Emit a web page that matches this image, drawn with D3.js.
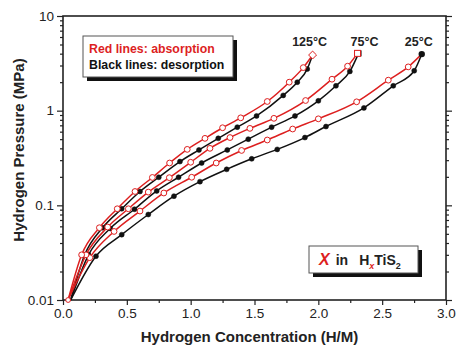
<!DOCTYPE html>
<html>
<head>
<meta charset="utf-8">
<script src="https://cdn.jsdelivr.net/npm/d3@7"></script>
<style>
  body { margin: 0; background: #fff; }
  svg { display: block; font-family: "Liberation Sans", Arial, sans-serif; }
</style>
</head>
<body>
<svg id="chart" width="456" height="346"></svg>
<script>
// [H/M, MPa] points
const absorption125 = [[0.04,0.01],[0.146,0.03],[0.285,0.058],[0.425,0.092],[0.564,0.14],[0.70,0.197],[0.835,0.28],[0.973,0.39],[1.112,0.51],[1.25,0.66],[1.392,0.84],[1.6,1.25],[1.772,2.0],[1.882,2.85],[1.955,3.87]];
const desorption125 = [[0.06,0.01],[0.17,0.03],[0.31,0.058],[0.46,0.092],[0.603,0.14],[0.75,0.198],[0.916,0.29],[1.065,0.385],[1.216,0.51],[1.365,0.67],[1.516,0.88],[1.725,1.45],[1.835,2.0],[1.913,2.75],[1.955,3.87]];
const absorption75 = [[0.04,0.01],[0.18,0.03],[0.35,0.059],[0.512,0.092],[0.668,0.138],[0.833,0.196],[1.0,0.285],[1.151,0.40],[1.308,0.52],[1.464,0.65],[1.652,0.83],[1.9,1.28],[2.107,2.15],[2.229,2.95],[2.307,4.03]];
const desorption75 = [[0.06,0.01],[0.2,0.03],[0.37,0.057],[0.56,0.091],[0.734,0.142],[0.905,0.198],[1.086,0.28],[1.287,0.385],[1.451,0.50],[1.634,0.67],[1.817,0.88],[2.0,1.27],[2.138,1.83],[2.247,2.6],[2.315,4.03]];
const absorption25 = [[0.04,0.01],[0.21,0.028],[0.40,0.053],[0.603,0.087],[0.79,0.135],[1.008,0.198],[1.2,0.28],[1.399,0.38],[1.6,0.49],[1.799,0.64],[2.0,0.82],[2.3,1.24],[2.548,2.1],[2.704,2.9],[2.81,3.96]];
const desorption25 = [[0.06,0.01],[0.258,0.029],[0.46,0.049],[0.668,0.080],[0.869,0.125],[1.073,0.178],[1.282,0.24],[1.478,0.31],[1.678,0.39],[1.895,0.52],[2.06,0.68],[2.357,1.07],[2.587,1.83],[2.751,2.64],[2.81,3.96]];

const xTicks = [0, 0.5, 1.0, 1.5, 2.0, 2.5, 3.0];
const xTickLabels = ["0.0", "0.5", "1.0", "1.5", "2.0", "2.5", "3.0"];
const yTicks = [0.01, 0.1, 1, 10];
const yTickLabels = ["0.01", "0.1", "1", "10"];
const tempLabels = ["125°C", "75°C", "25°C"];

const RED = "#dd1f1f";
const BLACK = "#111";

const svg = d3.select("#chart");
const plotLeft = 63, plotRight = 446, plotTop = 16, plotBottom = 300;

const x = d3.scaleLinear().domain([0, 3]).range([plotLeft, plotRight]);
const y = d3.scaleLog().domain([0.01, 10]).range([plotBottom, plotTop]);

// minor log ticks 2..9 in each decade
const yMinor = [];
[0.01, 0.1, 1].forEach(d => { for (let k = 2; k <= 9; k++) yMinor.push(d * k); });
const xMinor = d3.range(0.25, 3, 0.5);

// axes
function styleAxis(g) {
  g.select(".domain").remove();
  g.selectAll("line").attr("stroke", "#222").attr("stroke-width", 1.2);
  g.selectAll("text").attr("fill", "#222").style("font-size", "13.5px");
}

svg.append("g").attr("transform", `translate(${plotLeft},0)`)
  .call(d3.axisLeft(y).tickValues(yTicks).tickSize(6).tickPadding(3)
    .tickFormat((d, i) => yTickLabels[i]))
  .call(styleAxis);
svg.append("g").attr("transform", `translate(${plotLeft},0)`)
  .call(d3.axisLeft(y).tickValues(yMinor).tickSize(3).tickFormat(""))
  .call(styleAxis);
svg.append("g").attr("transform", `translate(${plotRight},0)`)
  .call(d3.axisLeft(y).tickValues(yTicks).tickSize(-6).tickFormat(""))
  .call(styleAxis);
svg.append("g").attr("transform", `translate(${plotRight},0)`)
  .call(d3.axisLeft(y).tickValues(yMinor).tickSize(-3).tickFormat(""))
  .call(styleAxis);

svg.append("g").attr("transform", `translate(0,${plotBottom})`)
  .call(d3.axisBottom(x).tickValues(xTicks).tickSize(5).tickPadding(3)
    .tickFormat((d, i) => xTickLabels[i]))
  .call(styleAxis);
svg.append("g").attr("transform", `translate(0,${plotBottom})`)
  .call(d3.axisBottom(x).tickValues(xMinor).tickSize(3).tickFormat(""))
  .call(styleAxis);

// frame
svg.append("rect")
  .attr("x", plotLeft).attr("y", plotTop)
  .attr("width", plotRight - plotLeft).attr("height", plotBottom - plotTop)
  .attr("fill", "none").attr("stroke", "#222").attr("stroke-width", 1.6);

// axis titles
svg.append("text")
  .attr("x", (plotLeft + plotRight) / 2 - 5).attr("y", 342)
  .attr("text-anchor", "middle")
  .style("font-size", "15px").style("font-weight", "bold").attr("fill", "#222")
  .text("Hydrogen Concentration (H/M)");
svg.append("text")
  .attr("transform", `translate(24,150) rotate(-90)`)
  .attr("text-anchor", "middle")
  .style("font-size", "15px").style("font-weight", "bold").attr("fill", "#222")
  .text("Hydrogen Pressure (MPa)");

// curves
const line = d3.line()
  .x(d => x(d[0]))
  .y(d => y(d[1]))
  .curve(d3.curveMonotoneX);

const plot = svg.append("g");

function drawCurve(data, color) {
  plot.append("path")
    .datum(data)
    .attr("fill", "none")
    .attr("stroke", color)
    .attr("stroke-width", 1.5)
    .attr("d", line);
}

function drawDots(data, filled) {
  const pts = data.slice(1, -1);
  plot.selectAll(null)
    .data(pts)
    .enter().append("circle")
    .attr("cx", d => x(d[0]))
    .attr("cy", d => y(d[1]))
    .attr("r", filled ? 2.5 : 2.9)
    .attr("fill", filled ? BLACK : "#fff")
    .attr("stroke", filled ? BLACK : RED)
    .attr("stroke-width", filled ? 0.5 : 1);
}

// black (desorption) first, red (absorption) on top
[desorption25, desorption75, desorption125].forEach(d => drawCurve(d, BLACK));
[desorption25, desorption75, desorption125].forEach(d => drawDots(d, true));
[absorption25, absorption75, absorption125].forEach(d => drawCurve(d, RED));
[absorption25, absorption75, absorption125].forEach(d => drawDots(d, false));

// end markers
const end75 = desorption75[desorption75.length - 1];
plot.append("rect")
  .attr("x", x(end75[0]) - 3).attr("y", y(end75[1]) - 3)
  .attr("width", 6).attr("height", 6).attr("fill", BLACK);
const endA75 = absorption75[absorption75.length - 1];
plot.append("rect")
  .attr("x", x(endA75[0]) - 3).attr("y", y(endA75[1]) - 3)
  .attr("width", 6).attr("height", 6)
  .attr("fill", "#fff").attr("stroke", RED).attr("stroke-width", 1);
const endA125 = absorption125[absorption125.length - 1];
plot.append("path")
  .attr("transform", `translate(${x(endA125[0])},${y(endA125[1])})`)
  .attr("d", d3.symbol(d3.symbolDiamond2, 40)())
  .attr("fill", "#fff").attr("stroke", RED).attr("stroke-width", 1);
const end25 = desorption25[desorption25.length - 1];
plot.append("circle")
  .attr("cx", x(end25[0])).attr("cy", y(end25[1])).attr("r", 3.2).attr("fill", BLACK);
// start marker near origin
plot.append("circle")
  .attr("cx", x(absorption25[0][0])).attr("cy", y(absorption25[0][1])).attr("r", 2.4)
  .attr("fill", "#fff").attr("stroke", RED).attr("stroke-width", 1);

// temperature labels, placed above each curve's end
const tempEnds = [endA125, endA75, end25];
const tempShift = [-3, 7, -3];
svg.selectAll(null)
  .data(tempLabels)
  .enter().append("text")
  .attr("x", (d, i) => x(tempEnds[i][0]) + tempShift[i])
  .attr("y", 46)
  .attr("text-anchor", "middle")
  .style("font-size", "12.5px").style("font-weight", "bold").attr("fill", "#222")
  .text(d => d);

// legend 1
const lg = svg.append("g");
lg.append("rect").attr("x", 87).attr("y", 40).attr("width", 150).attr("height", 41).attr("fill", BLACK);
lg.append("rect").attr("x", 83).attr("y", 36).attr("width", 150).attr("height", 41)
  .attr("fill", "#fff").attr("stroke", "#555").attr("stroke-width", 1);
lg.append("text").attr("x", 89).attr("y", 53)
  .style("font-size", "12.3px").style("font-weight", "bold").attr("fill", RED)
  .text("Red lines: absorption");
lg.append("text").attr("x", 89).attr("y", 69)
  .style("font-size", "12.3px").style("font-weight", "bold").attr("fill", BLACK)
  .text("Black lines: desorption");

// legend 2
const lg2 = svg.append("g");
lg2.append("rect").attr("x", 313).attr("y", 250).attr("width", 109).attr("height", 27).attr("fill", BLACK);
lg2.append("rect").attr("x", 309).attr("y", 246).attr("width", 109).attr("height", 27)
  .attr("fill", "#fff").attr("stroke", "#555").attr("stroke-width", 1);
const t2 = lg2.append("text").attr("x", 319).attr("y", 265)
  .style("font-size", "14px").style("font-weight", "bold").attr("fill", "#222");
t2.append("tspan").attr("fill", RED).style("font-style", "italic").style("font-size", "16px").text("X");
t2.append("tspan").attr("dx", 6).text("in");
t2.append("tspan").attr("dx", 11).text("H");
t2.append("tspan").attr("fill", RED).style("font-style", "italic").style("font-size", "9px").attr("dy", 4).text("x");
t2.append("tspan").attr("dy", -4).text("TiS");
t2.append("tspan").style("font-size", "9px").attr("dy", 4).text("2");
</script>
</body>
</html>
